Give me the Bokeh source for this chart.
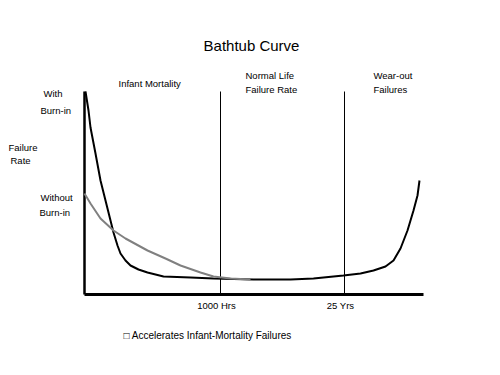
from bokeh.plotting import figure
from bokeh.models import Range1d
from bokeh.core.properties import value
from bokeh.embed import file_html
from bokeh.resources import INLINE

# Data (arbitrary units: x = time, y = failure rate)
with_burnin_x = [1, 4, 6, 11, 16, 21, 26, 29, 33, 36, 41, 46, 54, 63, 79, 106, 129, 169, 206, 229, 259, 276, 289, 301, 309, 316, 323, 329, 333, 335]
with_burnin_y = [203, 184, 167, 141, 114, 94, 74, 62, 49, 41, 34, 29, 25, 22, 18, 17, 16, 15, 15, 16, 19, 21, 24, 28, 34, 46, 64, 84, 99, 114]
without_burnin_x = [0, 6, 16, 29, 41, 63, 81, 96, 116, 129, 146, 166]
without_burnin_y = [101, 91, 76, 64, 56, 44, 36, 29, 22, 18, 16, 15]
x_max = 339
y_max = 203
tick_positions = [136, 260]
tick_labels = ["1000 Hrs", "25 Yrs"]
title_text = "Bathtub Curve"
region_lines = ["Infant  Mortality", "Normal Life", "Failure Rate", "Wear-out", "Failures"]
side_lines = ["With", "Burn-in", "Failure", "Rate", "Without", "Burn-in"]
footnote = "\u25a1 Accelerates Infant-Mortality Failures"

FONT = value("Liberation Sans")

W, H = 484, 359
# data x = page_x - 84, data y = 294 - page_y (canvas origin at page 0,0)
p = figure(width=W, height=H, output_backend="svg", toolbar_location=None,
           x_range=Range1d(-84, W - 84), y_range=Range1d(294 - H, 294),
           min_border=0, outline_line_color=None, background_fill_color="white")
p.xaxis.visible = False
p.yaxis.visible = False
p.grid.visible = False

# axes
p.segment(x0=[0], y0=[0], x1=[0], y1=[y_max], line_color="black", line_width=2.5)
p.segment(x0=[0], y0=[0], x1=[x_max], y1=[0], line_color="black", line_width=3)
# region dividers
p.segment(x0=tick_positions, y0=[0, 0], x1=tick_positions, y1=[y_max, y_max],
          line_color="black", line_width=1)

p.line(with_burnin_x, with_burnin_y, line_color="black", line_width=2)
p.line(without_burnin_x, without_burnin_y, line_color="#808080", line_width=2)

# tick labels
p.text(x=tick_positions, y=[-11, -11], text=tick_labels, text_font=FONT,
       text_font_size="9.5px", text_align="center",
       text_baseline="middle", x_offset=-4, text_color="black")

# title
p.text(x=[167], y=[249], text=[title_text], text_font=FONT, text_font_size="15px",
       text_align="center", text_baseline="middle", text_color="black")

# region labels
p.text(x=[34, 161, 161, 289, 289], y=[211, 219, 205, 219, 205], text=region_lines,
       text_font=FONT, text_font_size="9.5px", text_align="left",
       text_baseline="middle", text_color="black")

# side labels
p.text(x=[-41, -44, -76, -74, -44, -45], y=[201, 184, 147, 134, 97, 82], text=side_lines,
       text_font=FONT, text_font_size="9.5px", text_align="left",
       text_baseline="middle", text_color="black")

p.text(x=[39], y=[-41], text=[footnote], text_font=FONT, text_font_size="10px",
       text_align="left", text_baseline="middle", text_color="black")

open("out.html", "w").write(file_html(p, INLINE))
